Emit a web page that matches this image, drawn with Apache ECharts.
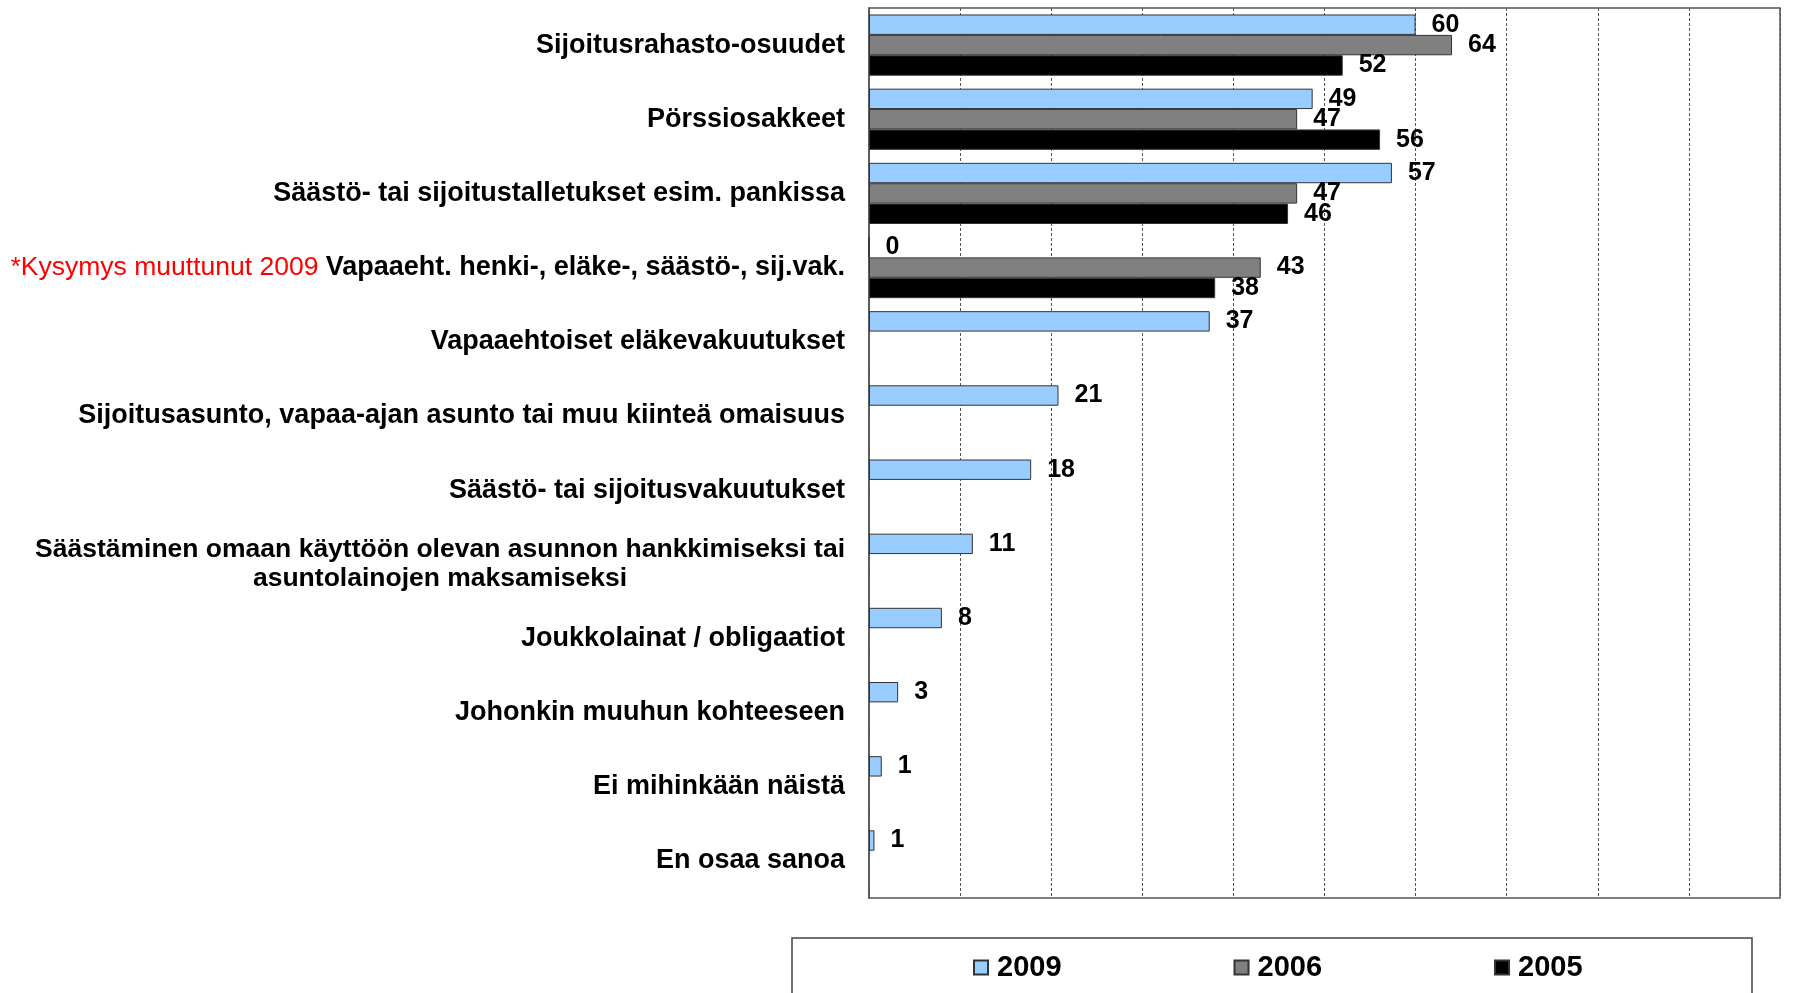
<!DOCTYPE html>
<html>
<head>
<meta charset="utf-8">
<style>
  html, body { margin: 0; padding: 0; background: #fff; }
  #chart { width: 1818px; height: 993px; }
</style>
<script src="https://cdn.jsdelivr.net/npm/echarts@6/dist/echarts.min.js"></script>
</head>
<body>
<div id="chart"></div>
<script>
const categories = [
  'Sijoitusrahasto-osuudet',
  'Pörssiosakkeet',
  'Säästö- tai sijoitustalletukset esim. pankissa',
  'Vapaaeht. henki-, eläke-, säästö-, sij.vak.',
  'Vapaaehtoiset eläkevakuutukset',
  'Sijoitusasunto, vapaa-ajan asunto tai muu kiinteä omaisuus',
  'Säästö- tai sijoitusvakuutukset',
  'Säästäminen omaan käyttöön olevan asunnon hankkimiseksi tai\nasuntolainojen maksamiseksi',
  'Joukkolainat / obligaatiot',
  'Johonkin muuhun kohteeseen',
  'Ei mihinkään näistä',
  'En osaa sanoa'
];
const noteIndex = 3;
const noteText = '*Kysymys muuttunut 2009';
const seriesNames = ['2009', '2006', '2005'];
const values2009 = [60, 48.7, 57.4, 0, 37.4, 20.8, 17.8, 11.4, 8, 3.2, 1.4, 0.6];
const values2006 = [64, 47, 47, 43, '-', '-', '-', '-', '-', '-', '-', '-'];
const values2005 = [52, 56.1, 46, 38, '-', '-', '-', '-', '-', '-', '-', '-'];
const xTicks = [0, 10, 20, 30, 40, 50, 60, 70, 80, 90, 100];

const FONT = "'Liberation Sans', Arial, sans-serif";
const colors = ['#99CCFF', '#808080', '#000000'];
const allValues = [values2009, values2006, values2005];

const chart = echarts.init(document.getElementById('chart'), null, { renderer: 'canvas' });

const labelStyle = {
  show: true,
  position: 'right',
  distance: 16,
  fontFamily: FONT,
  fontSize: 25,
  fontWeight: 'bold',
  color: '#000',
  formatter: p => String(Math.round(p.value))
};

const option = {
  backgroundColor: '#fff',
  animation: false,
  grid: {
    left: 869, top: 8, width: 911, height: 890,
    show: true, borderColor: '#555', borderWidth: 1.5, backgroundColor: 'transparent'
  },
  xAxis: {
    type: 'value',
    min: xTicks[0], max: xTicks[xTicks.length - 1], interval: xTicks[1] - xTicks[0],
    axisLabel: { show: false },
    axisTick: { show: false },
    axisLine: { show: false },
    splitLine: { show: true, lineStyle: { color: '#555', width: 1, type: [3, 2] } }
  },
  yAxis: {
    type: 'category',
    inverse: true,
    data: categories,
    axisTick: { show: false },
    axisLine: { show: true, lineStyle: { color: '#555', width: 1.5 } },
    axisLabel: {
      margin: 24,
      fontFamily: FONT,
      fontSize: 27,
      fontWeight: 'bold',
      color: '#000',
      formatter: (val, idx) => {
        if (idx === noteIndex) return '{r|' + noteText + ' }{b|' + val + '}';
        if (val.indexOf('\n') >= 0) return val.split('\n').map(l => '{c|' + l + '}').join('\n');
        return '{b|' + val + '}';
      },
      rich: {
        b: { fontFamily: FONT, fontSize: 27, fontWeight: 'bold', color: '#000' },
        r: { fontFamily: FONT, fontSize: 26.5, fontWeight: 'normal', color: '#FF0000' },
        c: { fontFamily: FONT, fontSize: 26.5, fontWeight: 'bold', color: '#000', align: 'center', lineHeight: 29 }
      }
    }
  },
  legend: {
    left: 968,
    top: 948,
    itemWidth: 14,
    itemHeight: 14,
    itemGap: 172,
    icon: 'rect',
    textStyle: { fontFamily: FONT, fontSize: 29, fontWeight: 'bold', color: '#000', padding: [0, 0, 0, 4] },
    data: seriesNames
  },
  graphic: [{
    type: 'rect',
    shape: { x: 792, y: 938, width: 960, height: 100 },
    style: { fill: 'none', stroke: '#444', lineWidth: 1.5 },
    silent: true
  }],
  series: seriesNames.map((name, i) => ({
    name: name,
    type: 'bar',
    data: allValues[i],
    barGap: '0%',
    barCategoryGap: '17.5%',
    itemStyle: { color: colors[i], borderColor: '#333', borderWidth: 1 },
    label: labelStyle
  }))
};

chart.setOption(option);
</script>
</body>
</html>
